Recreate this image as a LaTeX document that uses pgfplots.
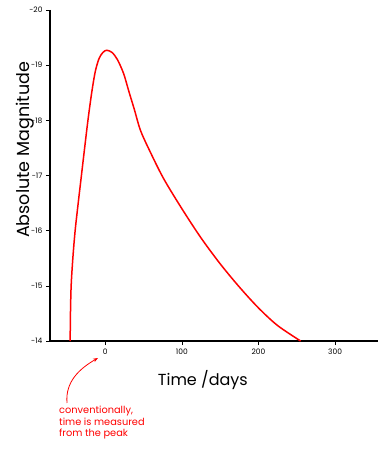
\documentclass[border=0pt]{standalone}
\usepackage{pgfplots}
\pgfplotsset{compat=1.18}
\usepackage{fontspec}
\setmainfont{Poppins}
\usetikzlibrary{arrows.meta}
\begin{document}
\begin{tikzpicture}
\useasboundingbox (0pt,0pt) rectangle (391pt,449pt);
\begin{axis}[
  at={(50pt,108pt)}, anchor=south west,
  scale only axis, width=328pt, height=331pt,
  xmin=-72, xmax=356, ymin=-20, ymax=-14,
  y dir=reverse,
  axis x line=bottom, axis y line=left,
  axis line style={-, line width=1.8pt, black},
  xtick={0,100,200,300}, ytick={-20,-19,-18,-17,-16,-15,-14},
  tick align=outside, major tick length=4pt,
  tick style={black, line width=0.6pt},
  /pgf/number format/assume math mode=true,
  ticklabel style={font=\fontsize{7.5}{9}\selectfont},
  clip=false,
]
\addplot[red, line width=1.5pt, smooth, tension=0.5] coordinates {
(-45.7,-14.0) (-45.3,-14.5) (-44.4,-15.0) (-42.2,-15.5) (-39.2,-16.0) (-35.2,-16.5)
(-31,-17.0) (-26.8,-17.5) (-22.5,-18.0) (-17.6,-18.5) (-13,-18.88) (-8,-19.12)
(-3,-19.23) (2,-19.27) (9,-19.23) (16,-19.1) (24,-18.85) (31,-18.52)
(38,-18.2) (46,-17.82) (58,-17.45) (76,-16.95) (100,-16.4) (125,-15.87)
(150,-15.4) (175,-14.98) (200,-14.6) (225,-14.28) (255,-14.0)
};
\node[rotate=90, font=\fontsize{17.5}{20}\selectfont] at (rel axis cs:-0.076,0.577) {Absolute Magnitude};
\node[font=\fontsize{16}{18}\selectfont] at (rel axis cs:0.466,-0.118) {Time /days};
\end{axis}
\node[anchor=north west, align=left, text=red, font=\fontsize{9.8}{11.5}\selectfont, inner sep=0pt] at (59pt,43pt) {conventionally,\\time is measured\\from the peak};
\draw[red, line width=0.8pt, -{Stealth[length=5pt]}] (67pt,46pt) to[out=95,in=210] (98pt,91pt);
\end{tikzpicture}
\end{document}
